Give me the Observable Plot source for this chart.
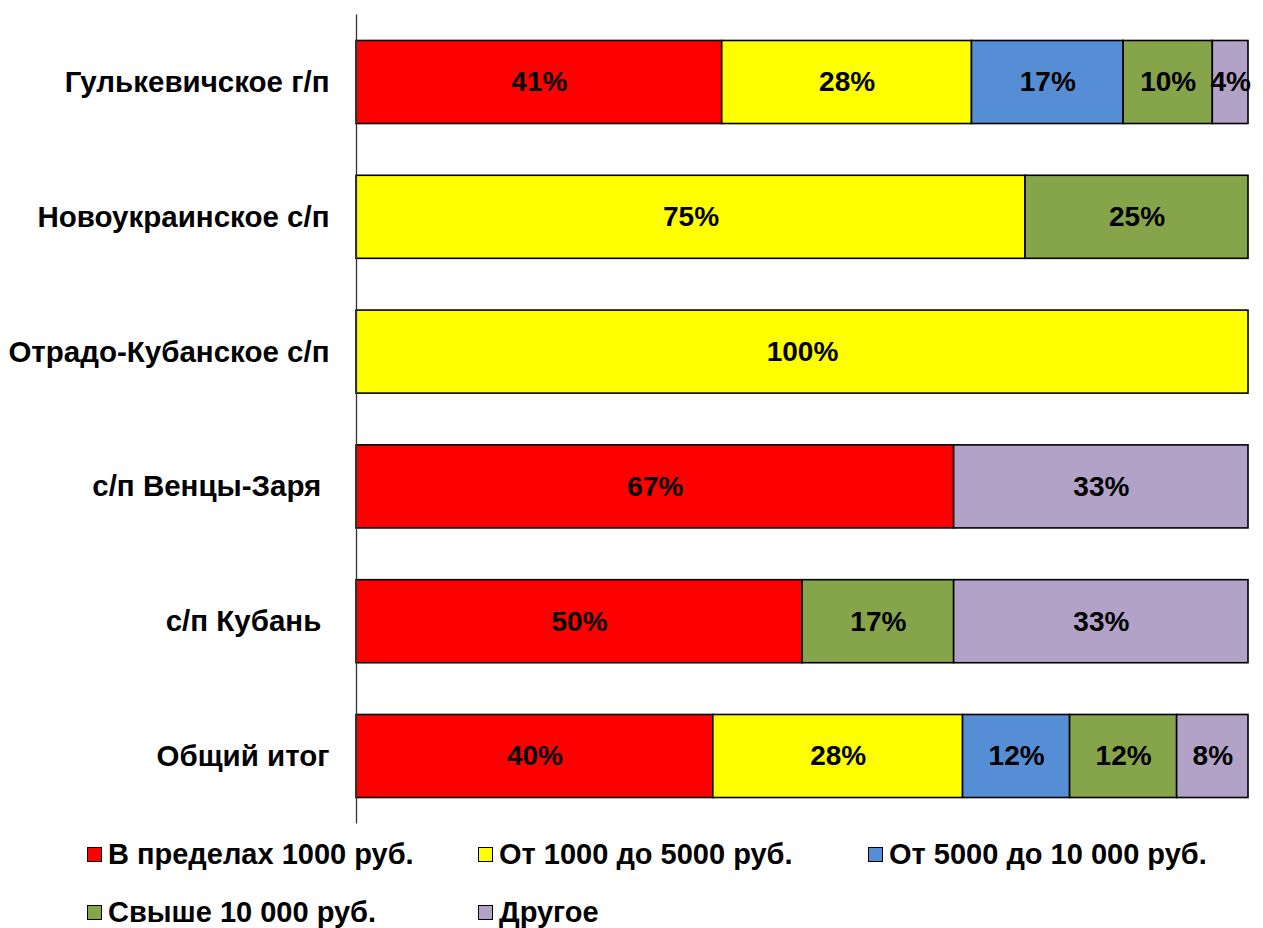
<!DOCTYPE html>
<html>
<head>
<meta charset="utf-8">
<script src="https://cdn.jsdelivr.net/npm/d3@7"></script>
<script src="https://cdn.jsdelivr.net/npm/@observablehq/plot@0.6"></script>
<style>
  html, body { margin: 0; padding: 0; background: #fff; }
  #wrap { position: relative; width: 1263px; height: 928px; font-family: "Liberation Sans", Arial, sans-serif; }
  #legend { position: absolute; left: 0; top: 0; width: 1263px; height: 928px; pointer-events: none; }
  .item { position: absolute; display: flex; align-items: center; font-size: 29px; font-weight: bold; color: #000; white-space: nowrap; }
  .sw { width: 13px; height: 13px; border: 1.5px solid #000; margin-right: 6px; flex: none; }
</style>
</head>
<body>
<div id="wrap"><div id="chart"></div><div id="legend"></div></div>
<script>
const regions = [
  "Гулькевичское г/п",
  "Новоукраинское с/п",
  "Отрадо-Кубанское с/п",
  "с/п Венцы-Заря\u00a0",
  "с/п Кубань\u00a0",
  "Общий итог"
];
const categories = [
  "В пределах 1000 руб.",
  "От 1000 до 5000 руб.",
  "От 5000 до 10 000 руб.",
  "Свыше 10 000 руб.",
  "Другое"
];
const colors = ["#FF0000", "#FFFF00", "#558ED5", "#86A44A", "#B3A2C7"];
const within1000   = [41, 0, 0, 67, 50, 40];
const from1000     = [28, 75, 100, 0, 0, 28];
const from5000     = [17, 0, 0, 0, 0, 12];
const over10000    = [10, 25, 0, 0, 17, 12];
const other        = [4, 0, 0, 33, 33, 8];
const series = [within1000, from1000, from5000, over10000, other];

const data = [];
series.forEach((vals, ci) => {
  vals.forEach((v, ri) => {
    if (v > 0) data.push({region: regions[ri], cat: categories[ci], value: v});
  });
});

const chart = Plot.plot({
  width: 1263,
  height: 828,
  marginLeft: 356,
  marginRight: 15,
  marginTop: 14.6,
  marginBottom: 4.6,
  style: {fontFamily: "'Liberation Sans', Arial, sans-serif", fontSize: "28px", fontWeight: "bold", color: "#000", background: "#fff"},
  x: {domain: [0, 100], axis: null},
  y: {domain: regions, paddingInner: 0.384, paddingOuter: 0.192, round: false, label: null},
  color: {domain: categories, range: colors},
  marks: [
    Plot.barX(data, Plot.stackX({x: "value", y: "region", fill: "cat", z: "cat", order: categories, stroke: "#000", strokeWidth: 1.6})),
    Plot.text(data, Plot.stackX({x: "value", y: "region", z: "cat", order: categories, text: d => d.value + "%", fill: "#000", fontSize: 28, fontWeight: "bold"})),
    Plot.ruleX([0], {stroke: "#333", strokeWidth: 1.3}),
    Plot.axisY({tickSize: 0, tickPadding: 27, fontSize: 29.5, fontWeight: "bold", label: null})
  ]
});
document.getElementById("chart").appendChild(chart);

const pos = [[87, 854], [478, 854], [868, 854], [87, 912], [478, 912]];
const legend = document.getElementById("legend");
categories.forEach((c, i) => {
  const it = document.createElement("div");
  it.className = "item";
  it.style.left = pos[i][0] + "px";
  it.style.top = (pos[i][1] - 18) + "px";
  it.style.height = "36px";
  const sw = document.createElement("span");
  sw.className = "sw";
  sw.style.background = colors[i];
  const tx = document.createElement("span");
  tx.textContent = c;
  it.appendChild(sw);
  it.appendChild(tx);
  legend.appendChild(it);
});
</script>
</body>
</html>
